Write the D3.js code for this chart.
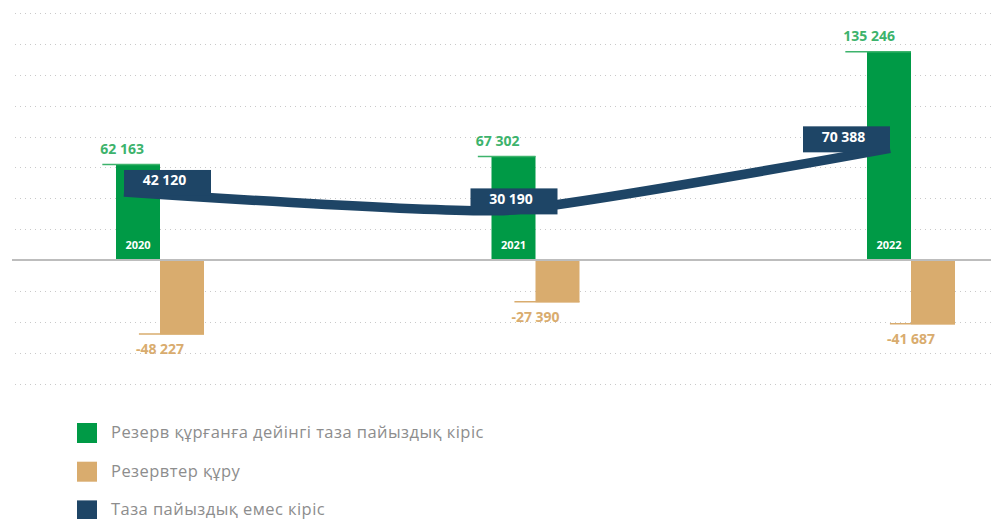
<!DOCTYPE html>
<html>
<head>
<meta charset="utf-8">
<script src="https://cdn.jsdelivr.net/npm/d3@7"></script>
<style>
  html, body { margin: 0; padding: 0; background: #ffffff; }
  svg { display: block; font-family: "Open Sans", "Noto Sans", sans-serif; }
</style>
</head>
<body>
<svg id="chart" width="991" height="519"></svg>
<script>
// Years and the three series (mln tenge)
const years = ["2020", "2021", "2022"];
const incomeBeforeReserves = [62163, 67302, 135246];
const reserves = [-48227, -27390, -41687];
const nonInterestIncome = [42120, 30190, 70388];
const legendLabels = [
  "Резерв құрғанға дейінгі таза пайыздық кіріс",
  "Резервтер құру",
  "Таза пайыздық емес кіріс"
];
const gridTicks = [-80000, -60000, -40000, -20000, 20000, 40000, 60000, 80000, 100000, 120000, 140000, 160000];

const colors = {
  green: "#009a46",
  greenText: "#3db36c",
  tan: "#d9ac6e",
  navy: "#1e4566",
  grid: "#c9c9c9",
  base: "#bdbdbd",
  legendText: "#8d8d8d"
};

// thousands separated by a space, plain hyphen for negatives
const fmt = v => d3.format(",")(v).replace(/,/g, " ").replace("\u2212", "-");

const svg = d3.select("#chart");

const y = d3.scaleLinear().domain([-80000, 160000]).range([383.5, 13]);
const x = d3.scalePoint().domain(years).range([160, 911]);
const xLine = d3.scalePoint().domain(years).range([124, 890]);
const barW = 44;

// dotted grid
svg.append("g").selectAll("line").data(gridTicks).join("line")
  .attr("x1", 15).attr("x2", 991)
  .attr("y1", d => Math.round(y(d)) + 0.5).attr("y2", d => Math.round(y(d)) + 0.5)
  .attr("stroke", colors.grid).attr("stroke-width", 1)
  .attr("stroke-dasharray", "1,4");

// bars
const gBars = svg.append("g");
gBars.selectAll("rect.pos").data(years).join("rect")
  .attr("x", d => x(d) - barW)
  .attr("width", barW)
  .attr("y", (d, i) => y(incomeBeforeReserves[i]))
  .attr("height", (d, i) => y(0) - y(incomeBeforeReserves[i]))
  .attr("fill", colors.green);
gBars.selectAll("rect.neg").data(years).join("rect")
  .attr("x", d => x(d))
  .attr("width", barW)
  .attr("y", y(0))
  .attr("height", (d, i) => y(reserves[i]) - y(0))
  .attr("fill", colors.tan);

// zero line
svg.append("line")
  .attr("x1", 12).attr("x2", 991)
  .attr("y1", y(0)).attr("y2", y(0))
  .attr("stroke", colors.base).attr("stroke-width", 2);

// year labels inside the green bars
svg.append("g").selectAll("text").data(years).join("text")
  .attr("x", d => x(d) - barW / 2)
  .attr("y", y(0) - 11)
  .attr("text-anchor", "middle")
  .attr("fill", "#ffffff")
  .attr("font-size", 11)
  .attr("font-weight", 700)
  .text(d => d);

// green value labels with leader ticks
const gPosLab = svg.append("g");
years.forEach((yr, i) => {
  const top = y(incomeBeforeReserves[i]);
  const t = gPosLab.append("text")
    .attr("x", x(yr) - 16)
    .attr("y", top - 10)
    .attr("text-anchor", "end")
    .attr("fill", colors.greenText)
    .attr("font-size", 14)
    .attr("font-weight", 700)
    .text(fmt(incomeBeforeReserves[i]));
  const bb = t.node().getBBox();
  gPosLab.append("line")
    .attr("x1", bb.x + 2).attr("x2", x(yr))
    .attr("y1", top + 0.5).attr("y2", top + 0.5)
    .attr("stroke", colors.greenText).attr("stroke-width", 1.5);
});

// tan value labels with leader ticks
const gNegLab = svg.append("g");
years.forEach((yr, i) => {
  const bottom = y(reserves[i]);
  const t = gNegLab.append("text")
    .attr("x", x(yr))
    .attr("y", bottom + 20)
    .attr("text-anchor", "middle")
    .attr("fill", colors.tan)
    .attr("font-size", 14)
    .attr("font-weight", 700)
    .text(fmt(reserves[i]));
  const bb = t.node().getBBox();
  gNegLab.append("line")
    .attr("x1", bb.x + 3).attr("x2", x(yr) + barW)
    .attr("y1", bottom - 0.5).attr("y2", bottom - 0.5)
    .attr("stroke", colors.tan).attr("stroke-width", 1.5);
});

// non-interest income line
const lineShift = -3;
const line = d3.line()
  .x((d, i) => xLine(years[i]))
  .y(d => y(d) + lineShift)
  .curve(d3.curveCardinal.tension(0.5));
svg.append("path")
  .datum(nonInterestIncome)
  .attr("d", line)
  .attr("fill", "none")
  .attr("stroke", colors.navy)
  .attr("stroke-width", 9.5);

// value boxes on the line
const boxW = 87, boxH = 26;
const boxAlign = ["start", "middle", "end"];
const gBox = svg.append("g");
years.forEach((yr, i) => {
  const px = xLine(yr), py = y(nonInterestIncome[i]) + lineShift;
  let left = px;
  if (boxAlign[i] === "middle") left = px - boxW / 2 + 7;
  if (boxAlign[i] === "end") left = px - boxW;
  const top = py - 22;
  gBox.append("rect")
    .attr("x", left).attr("y", top)
    .attr("width", boxW).attr("height", boxH)
    .attr("fill", colors.navy);
  gBox.append("text")
    .attr("x", left + boxW / 2 - 3)
    .attr("y", top + 15.5)
    .attr("text-anchor", "middle")
    .attr("fill", "#ffffff")
    .attr("font-size", 14)
    .attr("font-weight", 700)
    .text(fmt(nonInterestIncome[i]));
});

// legend
const legendColors = [colors.green, colors.tan, colors.navy];
const gLeg = svg.append("g");
legendLabels.forEach((lab, i) => {
  const yy = 423 + i * 38.7;
  gLeg.append("rect")
    .attr("x", 77).attr("y", yy)
    .attr("width", 20).attr("height", 20)
    .attr("fill", legendColors[i]);
  gLeg.append("text")
    .attr("x", 111).attr("y", yy + 15)
    .attr("fill", colors.legendText)
    .attr("font-size", 16.5)
    .attr("letter-spacing", 0.45)
    .text(lab);
});
</script>
</body>
</html>
